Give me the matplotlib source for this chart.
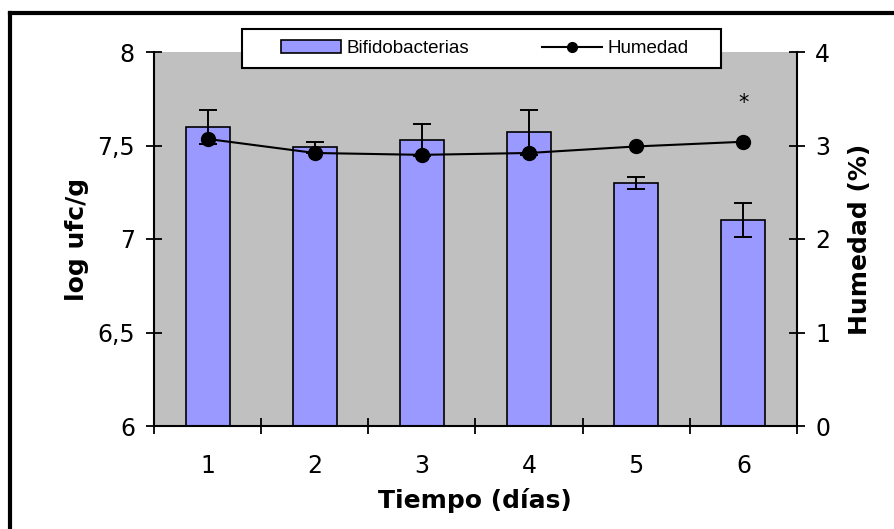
import matplotlib
matplotlib.use("Agg")
import matplotlib.pyplot as plt
from matplotlib.patches import Patch, Rectangle
from matplotlib.lines import Line2D
from matplotlib.ticker import FixedLocator
import numpy as np

# Data
dias = ["1", "2", "3", "4", "5", "6"]
bifido = [7.60, 7.49, 7.53, 7.57, 7.30, 7.10]
bifido_err = [0.09, 0.03, 0.085, 0.12, 0.03, 0.09]
humedad = [3.07, 2.92, 2.90, 2.92, 2.99, 3.04]
left_ticks = [6, 6.5, 7, 7.5, 8]
left_ticklabels = ["6", "6,5", "7", "7,5", "8"]
right_ticks = [0, 1, 2, 3, 4]

W, H = 895, 529
fig = plt.figure(figsize=(W / 100, H / 100), dpi=100)
fig.patch.set_facecolor("white")


def fx(px):
    return px / W


def fy(py):
    return 1 - py / H


ax_l, ax_r, ax_t, ax_b = 154, 797, 52, 426
ax = fig.add_axes([fx(ax_l), fy(ax_b), fx(ax_r - ax_l), (ax_b - ax_t) / H])
ax.set_facecolor("#C0C0C0")

x = np.arange(len(dias))
ax.bar(x, bifido, width=0.41, color="#9999FF", edgecolor="black",
       linewidth=1.2, zorder=2)
ax.errorbar(x, bifido, yerr=bifido_err, fmt="none", ecolor="black",
            elinewidth=1.4, capsize=6.8, capthick=1.4, zorder=3)

ax.set_xlim(-0.5, len(dias) - 0.5)
ax.set_ylim(6, 8)
ax.set_yticks(left_ticks)
ax.set_yticklabels(left_ticklabels)
ax.set_xticks(x)
ax.set_xticklabels(dias)
ax.xaxis.set_minor_locator(FixedLocator(np.arange(-0.5, len(dias), 1.0)))

tick_font = dict(family="DejaVu Sans", size=17)
for lab in ax.get_xticklabels() + ax.get_yticklabels():
    lab.set_fontfamily(tick_font["family"])
    lab.set_fontsize(tick_font["size"])

ax.tick_params(axis="x", which="major", length=0, pad=20)
ax.tick_params(axis="x", which="minor", direction="inout", length=12,
               width=1.3, color="black")
ax.tick_params(axis="y", direction="inout", length=11, width=1.3, pad=8.2)

for side in ["left", "bottom"]:
    ax.spines[side].set_linewidth(1.5)
    ax.spines[side].set_color("black")
ax.spines["top"].set_visible(False)
ax.spines["right"].set_visible(False)

ax2 = ax.twinx()
ax2.plot(x, humedad, color="black", linewidth=1.5, marker="o",
         markersize=10, zorder=4)
ax2.set_ylim(0, 4)
ax2.set_yticks(right_ticks)
ax2.set_yticklabels([str(t) for t in right_ticks])
for lab in ax2.get_yticklabels():
    lab.set_fontfamily(tick_font["family"])
    lab.set_fontsize(tick_font["size"])
ax2.tick_params(axis="y", direction="inout", length=11, width=1.3, pad=7.5)
ax2.spines["right"].set_linewidth(1.5)
ax2.spines["top"].set_visible(False)
ax2.spines["left"].set_visible(False)
ax2.spines["bottom"].set_visible(False)

# significance mark over the last humidity point
ax2.text(x[-1], 3.45, "*", ha="center", va="center", fontsize=15,
         family="DejaVu Sans")

# axis titles
label_font = dict(family="DejaVu Sans", weight="bold", size=18)
fig.text(fx(77), fy(239), "log ufc/g", rotation=90, ha="center",
         va="center", **label_font)
fig.text(fx(860), fy(239), "Humedad (%)", rotation=90, ha="center",
         va="center", **label_font)
fig.text(fx(475), fy(508), "Tiempo (días)", ha="center", va="baseline",
         **label_font)

# legend box
fig.add_artist(Rectangle((fx(242), fy(68)), fx(721 - 242), (68 - 29) / H,
                         transform=fig.transFigure, facecolor="white",
                         edgecolor="black", linewidth=1.5, zorder=4))
handles = [Patch(facecolor="#9999FF", edgecolor="black", linewidth=1.2),
           Line2D([], [], color="black", linewidth=1.5, marker="o",
                  markersize=7)]
leg = fig.legend(handles, ["Bifidobacterias", "Humedad"], loc="center",
                 bbox_to_anchor=(fx(485), fy(48.5)), ncol=2, frameon=False,
                 handlelength=3.2, handletextpad=0.3, columnspacing=3.9,
                 prop=dict(family="Liberation Sans", size=13.5))
leg.set_zorder(5)

# outer frame
fig.add_artist(Line2D([fx(10), fx(10)], [fy(13), fy(H + 10)],
                      transform=fig.transFigure, color="black",
                      linewidth=3, solid_capstyle="projecting"))
fig.add_artist(Line2D([fx(10), fx(W + 10)], [fy(13), fy(13)],
                      transform=fig.transFigure, color="black",
                      linewidth=3, solid_capstyle="projecting"))

fig.savefig("out.png", dpi=100)
